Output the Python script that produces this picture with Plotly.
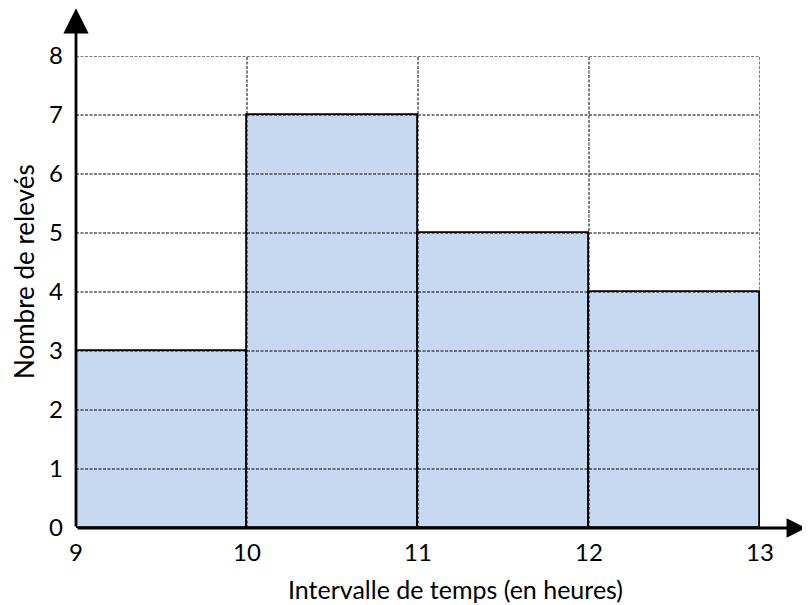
import plotly.graph_objects as go

bin_starts = [9, 10, 11, 12]
bin_ends = [10, 11, 12, 13]
counts = [3, 7, 5, 4]
x_ticks = [9, 10, 11, 12, 13]
y_ticks = [0, 1, 2, 3, 4, 5, 6, 7, 8]
x_title = "Intervalle de temps (en heures)"
y_title = "Nombre de relevés"

FONT = "Lato"
OFF = 8  # page body margin
L, T, PW, PH = 76 - OFF, 56 - OFF, 684, 472
centers = [(a + b) / 2 for a, b in zip(bin_starts, bin_ends)]
widths = [b - a for a, b in zip(bin_starts, bin_ends)]

fig = go.Figure()
fig.add_trace(go.Bar(
    x=centers, y=counts, width=widths,
    marker=dict(color="#c6d9f0", line=dict(color="black", width=1.8)),
    hoverinfo="skip", showlegend=False,
))

shapes = []
for yv in y_ticks[1:]:
    shapes.append(dict(type="line", xref="x", yref="y", x0=x_ticks[0], x1=x_ticks[-1],
                       y0=yv, y1=yv, layer="above",
                       line=dict(color="black", width=1, dash="3px,1.5px")))
for xv in x_ticks[1:]:
    shapes.append(dict(type="line", xref="x", yref="y", x0=xv, x1=xv,
                       y0=y_ticks[0], y1=y_ticks[-1], layer="above",
                       line=dict(color="black", width=1, dash="3px,1.5px")))

annotations = [
    dict(x=13.27, y=0, ax=x_ticks[0], ay=0, xref="x", yref="y", axref="x", ayref="y",
         text="", showarrow=True, arrowhead=2, arrowsize=1.4, arrowwidth=2.8,
         arrowcolor="black", standoff=0, startstandoff=0),
    dict(x=x_ticks[0], y=8.81, ax=x_ticks[0], ay=0, xref="x", yref="y", axref="x", ayref="y",
         text="", showarrow=True, arrowhead=2, arrowsize=1.8, arrowwidth=2.8,
         arrowcolor="black", standoff=0, startstandoff=0),
    dict(text=x_title, xref="paper", yref="paper", x=(455 - 76) / PW, y=-(589 - 528) / PH,
         showarrow=False, xanchor="center", yanchor="middle",
         font=dict(family=FONT, size=25, color="black")),
    dict(text=y_title, xref="paper", yref="paper", x=-(76 - 24) / PW, y=(528 - 272) / PH,
         showarrow=False, xanchor="center", yanchor="middle", textangle=-90,
         font=dict(family=FONT, size=26, color="black")),
]

fig.update_layout(
    width=810 - OFF, height=605 - OFF,
    margin=dict(l=L, r=810 - OFF - L - PW, t=T, b=605 - OFF - T - PH, autoexpand=False),
    paper_bgcolor="white", plot_bgcolor="white",
    shapes=shapes, annotations=annotations,
    bargap=0,
    xaxis=dict(range=[9, 13], tickvals=x_ticks, ticktext=[str(v) for v in x_ticks],
               showgrid=False, zeroline=False, showline=False, ticks="",
               ticklabelstandoff=8,
               tickfont=dict(family=FONT, size=24, color="black")),
    yaxis=dict(range=[0, 8], tickvals=y_ticks, ticktext=[str(v) for v in y_ticks],
               showgrid=False, zeroline=False, showline=False, ticks="",
               ticklabelstandoff=12,
               tickfont=dict(family=FONT, size=24, color="black")),
)

fig.write_html("out.html")
